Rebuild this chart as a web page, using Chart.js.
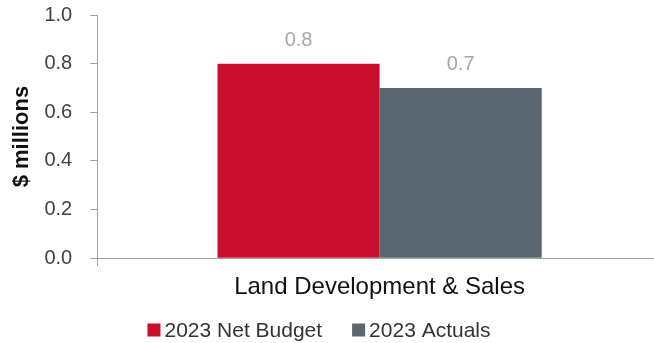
<!DOCTYPE html>
<html>
<head>
<meta charset="utf-8">
<script src="https://cdn.jsdelivr.net/npm/chart.js@4.4.1/dist/chart.umd.min.js"></script>
<style>
  html, body { margin: 0; padding: 0; background: #fff; }
  #wrap { width: 654px; height: 343px; position: relative; }
</style>
</head>
<body>
<div id="wrap"><canvas id="c"></canvas></div>
<script>
const categories = ['Land Development & Sales'];
const seriesNames = ['2023 Net Budget', '2023 Actuals'];
const netBudget = [0.8];
const actuals = [0.7];
const yTicks = [0.0, 0.2, 0.4, 0.6, 0.8, 1.0];

const FONT = '"Liberation Sans", Arial, sans-serif';

// Writes each bar's value a little above its top edge
const valueLabels = {
  id: 'valueLabels',
  afterDatasetsDraw(chart) {
    const ctx = chart.ctx;
    ctx.save();
    ctx.font = '20px ' + FONT;
    ctx.fillStyle = '#A6A6A6';
    ctx.textAlign = 'center';
    ctx.textBaseline = 'middle';
    chart.data.datasets.forEach((ds, i) => {
      chart.getDatasetMeta(i).data.forEach((bar, j) => {
        ctx.fillText(ds.data[j].toFixed(1), bar.x, bar.y - 23);
      });
    });
    ctx.restore();
  }
};

// Tightens the plot frame: the value axis starts near the top edge and
// the category axis runs past the right edge of the canvas
const frame = {
  id: 'frame',
  afterLayout(chart) {
    const top = 15;
    const y = chart.scales.y;
    y.top = top;
    y.height = y.bottom - y.top;
    y.configure();
    chart.chartArea.top = top;
    chart.chartArea.height = chart.chartArea.bottom - top;

    const x = chart.scales.x;
    x.right += 8;
    x.width += 8;
    x.configure();
  }
};

// Compact legend under the axis: square swatch hugging its label
const compactLegend = {
  id: 'compactLegend',
  afterDraw(chart) {
    const ctx = chart.ctx;
    const box = 13, gap = 4, spacing = 30, yMid = 330;
    ctx.save();
    ctx.font = '21px ' + FONT;
    ctx.textBaseline = 'middle';
    ctx.textAlign = 'left';
    const items = chart.data.datasets.map(ds => ({
      text: ds.label, color: ds.backgroundColor, w: ctx.measureText(ds.label).width
    }));
    const total = items.reduce((s, it) => s + box + gap + it.w, 0) + spacing * (items.length - 1);
    let x = (chart.width - total) / 2 - 8;
    items.forEach(it => {
      ctx.fillStyle = it.color;
      ctx.fillRect(x, yMid - box / 2, box, box);
      x += box + gap;
      ctx.fillStyle = '#333';
      ctx.fillText(it.text, x, yMid + 1);
      x += it.w + spacing;
    });
    ctx.restore();
  }
};

new Chart(document.getElementById('c'), {
  type: 'bar',
  data: {
    labels: categories,
    datasets: [
      { label: seriesNames[0], data: netBudget, backgroundColor: '#C8102E' },
      { label: seriesNames[1], data: actuals, backgroundColor: '#5A6670' }
    ]
  },
  options: {
    responsive: true,
    maintainAspectRatio: false,
    animation: false,
    layout: { padding: { top: 0, right: 0, left: 0, bottom: 34 } },
    datasets: { bar: { categoryPercentage: 0.574, barPercentage: 1.0 } },
    scales: {
      x: {
        grid: { drawOnChartArea: false, drawTicks: true, tickLength: 8, color: '#A0A0A0' },
        border: { color: '#A0A0A0', width: 1 },
        ticks: { color: '#111', font: { family: FONT, size: 24 }, padding: 7 }
      },
      y: {
        min: 0, max: 1,
        afterBuildTicks(axis) { axis.ticks = yTicks.map(v => ({ value: v })); },
        grid: { drawOnChartArea: false, drawTicks: true, tickLength: 7, color: '#A0A0A0' },
        border: { color: '#A0A0A0', width: 1 },
        ticks: {
          color: '#404040', font: { family: FONT, size: 20 }, padding: 18,
          callback: v => Number(v).toFixed(1)
        },
        title: {
          display: true, text: '$ millions', color: '#111',
          font: { family: FONT, size: 22, weight: 'bold' },
          padding: { top: 9, bottom: -9 }
        }
      }
    },
    plugins: {
      legend: { display: false },
      tooltip: { enabled: false }
    }
  },
  plugins: [frame, valueLabels, compactLegend]
});
</script>
</body>
</html>
